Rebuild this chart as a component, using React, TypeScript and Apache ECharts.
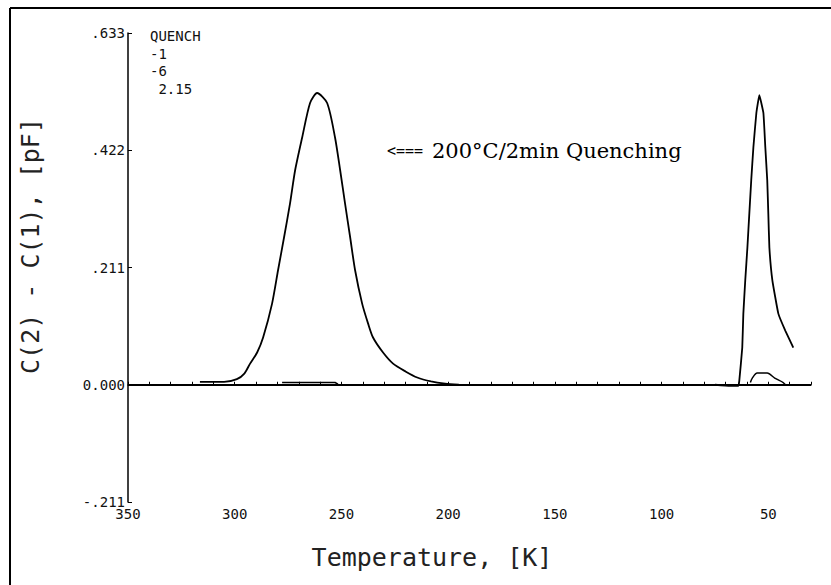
import React, { useEffect, useRef } from "react";
import * as echarts from "echarts";

// ---- data (temperature K, capacitance difference pF) ----
const xTickLabels = [350, 300, 250, 200, 150, 100, 50];
const yTickValues = [-0.211, 0, 0.211, 0.422, 0.633];

const quenchPeak: [number, number][] = [
  [316.3, 0.005], [305, 0.005], [299, 0.01], [295.5, 0.02], [292.8, 0.038], [289.5, 0.058],
  [286.7, 0.085], [282.5, 0.146], [279.7, 0.206], [276.9, 0.265], [274.1, 0.326],
  [271.7, 0.386], [268.4, 0.445], [264.7, 0.507], [261.4, 0.525], [256.7, 0.507],
  [253.0, 0.445], [250.6, 0.386], [248.3, 0.326], [245.9, 0.265], [243.6, 0.206],
  [240.3, 0.146], [237.5, 0.11], [235.2, 0.085], [230.5, 0.058], [225.8, 0.038],
  [220, 0.024], [214.5, 0.013], [208, 0.006], [201.4, 0.002], [195, 0],
];

const flatSegment: [number, number][] = [
  [277.8, 0.004], [253.0, 0.004], [251.6, 0.001],
];

const lowTempPeak: [number, number][] = [
  [75, 0], [68, -0.002], [64.1, -0.002], [63.6, 0.007], [62.2, 0.067],
  [61.7, 0.128], [60.8, 0.188], [59.8, 0.247], [58.9, 0.308], [58.0, 0.368],
  [57.0, 0.427], [55.6, 0.489], [54.2, 0.521], [52.3, 0.489], [51.4, 0.427],
  [50.5, 0.368], [50.0, 0.308], [49.5, 0.247], [48.1, 0.188], [45.3, 0.128],
  [42.0, 0.097], [38.3, 0.067],
];

const smallBump: [number, number][] = [
  [58.4, 0.004], [57.5, 0.012], [55.2, 0.021], [50.5, 0.021], [47, 0.012],
  [43.0, 0.004], [42.0, 0.0],
];

const quenchInfo = ["QUENCH", "-1", "-6", " 2.15"];

const fmtY = (v: number) => {
  const r = Math.round(v * 1000) / 1000;
  if (Math.abs(r) < 1e-9) return "0.000";
  const s = Math.abs(r).toFixed(3).replace(/^0/, "");
  return (r < 0 ? "-" : "") + s;
};

const MONO = '"DejaVu Sans Mono", monospace';

export default function App() {
  const ref = useRef<HTMLDivElement>(null);
  useEffect(() => {
    if (!ref.current) return;
    const chart = echarts.init(ref.current, undefined, { renderer: "svg" });
    const lineStyle = { color: "#000", width: 1.8 };
    chart.setOption({
      animation: false,
      backgroundColor: "#fff",
      grid: { left: 128, right: 20, top: 33, bottom: 83, containLabel: false },
      xAxis: {
        type: "value",
        min: 30,
        max: 350,
        interval: 10,
        inverse: true,
        axisLine: { show: true, lineStyle: { color: "#000", width: 1.5 } },
        axisTick: { show: true, inside: true, length: 3, lineStyle: { color: "#000" } },
        splitLine: { show: false },
        axisLabel: {
          margin: 5,
          fontFamily: MONO,
          fontSize: 14,
          color: "#111",
          formatter: (v: number) => (xTickLabels.includes(Math.round(v)) ? String(Math.round(v)) : ""),
        },
      },
      yAxis: {
        type: "value",
        min: yTickValues[0],
        max: yTickValues[yTickValues.length - 1],
        interval: 0.211,
        axisLine: { show: true, lineStyle: { color: "#000", width: 1.5 } },
        axisTick: { show: true, inside: true, length: 4, lineStyle: { color: "#000" } },
        splitLine: { show: false },
        axisLabel: {
          margin: 3,
          fontFamily: MONO,
          fontSize: 14,
          color: "#111",
          formatter: fmtY,
        },
      },
      series: [
        {
          type: "line",
          data: quenchPeak,
          showSymbol: false,
          smooth: 0.25,
          lineStyle,
          markLine: {
            silent: true,
            symbol: "none",
            label: { show: false },
            lineStyle: { color: "#000", width: 1.8, type: "solid" },
            data: [{ yAxis: 0 }],
          },
        },
        { type: "line", data: flatSegment, showSymbol: false, lineStyle: { color: "#000", width: 1.5 } },
        { type: "line", data: lowTempPeak, showSymbol: false, smooth: 0.1, lineStyle },
        { type: "line", data: smallBump, showSymbol: false, smooth: 0.3, lineStyle: { color: "#000", width: 1.5 } },
      ],
      graphic: [
        { type: "line", shape: { x1: 10, y1: 8, x2: 831, y2: 8 }, style: { stroke: "#000", lineWidth: 2 } },
        { type: "line", shape: { x1: 10, y1: 8, x2: 10, y2: 585 }, style: { stroke: "#000", lineWidth: 2 } },
        {
          type: "text",
          x: 30,
          y: 246,
          rotation: Math.PI / 2,
          style: {
            text: "C(2) - C(1), [pF]",
            font: `25px ${MONO}`,
            fill: "#222",
            textAlign: "center",
            textVerticalAlign: "middle",
          },
        },
        {
          type: "text",
          x: 432,
          y: 557,
          style: {
            text: "Temperature, [K]",
            font: `25px ${MONO}`,
            fill: "#222",
            textAlign: "center",
            textVerticalAlign: "middle",
          },
        },
        {
          type: "text",
          x: 387,
          y: 151,
          style: { text: "<===", font: `15px ${MONO}`, fill: "#000", textAlign: "left", textVerticalAlign: "middle" },
        },
        {
          type: "text",
          x: 432,
          y: 151,
          style: {
            text: "200°C/2min Quenching",
            font: '21px "DejaVu Serif", serif',
            fill: "#000",
            textAlign: "left",
            textVerticalAlign: "middle",
          },
        },
        ...quenchInfo.map((t, i) => ({
          type: "text",
          x: 150,
          y: 36 + i * 17.5,
          style: { text: t, font: `14px ${MONO}`, fill: "#111", textAlign: "left", textVerticalAlign: "middle" },
        })),
      ],
    });
    return () => chart.dispose();
  }, []);
  return (
    <div
      ref={ref}
      style={{ position: "fixed", left: 0, top: 0, width: 831, height: 585, background: "#fff" }}
    />
  );
}
